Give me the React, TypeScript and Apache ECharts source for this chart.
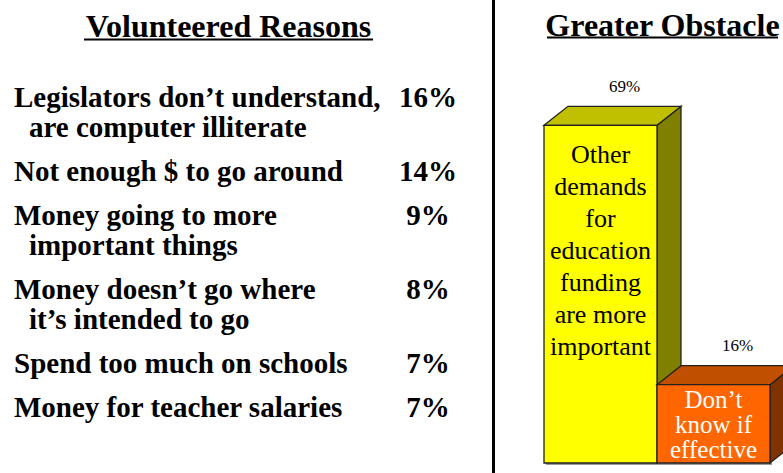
import React, { useEffect, useRef } from 'react';
import * as echarts from 'echarts';

const leftTitle = 'Volunteered Reasons';
const rightTitle = 'Greater Obstacle';
const reasons = [
  'Legislators don’t understand,\nare computer illiterate',
  'Not enough $ to go around',
  'Money going to more\nimportant things',
  'Money doesn’t go where\nit’s intended to go',
  'Spend too much on schools',
  'Money for teacher salaries',
];
const reasonValues = [16, 14, 9, 8, 7, 7];
const obstacleCategories = [
  'Other\ndemands\nfor\neducation\nfunding\nare more\nimportant',
  'Don’t\nknow if\neffective',
];
const obstacleValues = [69, 16];

const SERIF = 'Liberation Serif';

const barStyles = [
  { front: '#FFFF00', top: '#C0C000', side: '#808000', text: '#000000', size: 26, lh: 32, pad: 13 },
  { front: '#FF6600', top: '#C05000', side: '#7F3300', text: '#FFFFFF', size: 25, lh: 25, pad: 2.5 },
];

function txt(x: number, y: number, text: string, size: number, bold: boolean, align: string, vAlign: string, fill = '#000', extra: any = {}) {
  return {
    type: 'text', x, y,
    style: { text, fontFamily: SERIF, fontSize: size, fontWeight: bold ? 'bold' : 'normal', fill, align, verticalAlign: vAlign, ...extra },
  };
}

export default function App() {
  const ref = useRef<HTMLDivElement>(null);
  useEffect(() => {
    document.body.style.margin = '0';
    if (!ref.current) return;
    const chart = echarts.init(ref.current, null, { renderer: 'svg' });

    const graphics: any[] = [];
    graphics.push({ type: 'line', shape: { x1: 493.5, y1: 0, x2: 493.5, y2: 473 }, style: { stroke: '#000', lineWidth: 3 } });
    graphics.push(txt(228.5, 26, leftTitle, 32, true, 'center', 'middle'));
    graphics.push({ type: 'line', shape: { x1: 84, y1: 39.5, x2: 373, y2: 39.5 }, style: { stroke: '#000', lineWidth: 2 } });
    graphics.push(txt(662.5, 24.5, rightTitle, 32, true, 'center', 'middle'));
    graphics.push({ type: 'line', shape: { x1: 547, y1: 37.5, x2: 778, y2: 37.5 }, style: { stroke: '#000', lineWidth: 2 } });

    let baseline = 107;
    reasons.forEach((r, idx) => {
      const lines = r.split('\n');
      lines.forEach((ln, li) => {
        graphics.push(txt(li === 0 ? 14 : 29, baseline + li * 30 - 9.8, ln, 29, true, 'left', 'middle'));
      });
      graphics.push(txt(428, baseline - 9.8, `${reasonValues[idx]}%`, 29, true, 'center', 'middle'));
      baseline += lines.length * 30 + 14;
    });

    const dx = 24, dy = 19;

    chart.setOption({
      animation: false,
      grid: { left: 544, right: 13, top: 71.5, bottom: 10, containLabel: false },
      xAxis: { type: 'category', data: obstacleCategories, show: false },
      yAxis: { type: 'value', min: 0, max: 80, show: false },
      graphic: graphics,
      series: [{
        type: 'custom',
        clip: false,
        data: obstacleValues.map((v, i) => [i, v]),
        renderItem: (params: any, api: any) => {
          const i = params.dataIndex;
          const val = api.value(1);
          const topPt = api.coord([i, val]);
          const basePt = api.coord([i, 0]);
          const bw = api.size([1, 0])[0];
          const x0 = topPt[0] - bw / 2, x1 = topPt[0] + bw / 2;
          const yT = topPt[1], yB = basePt[1];
          const s = barStyles[i];
          const stroke = '#222';
          return {
            type: 'group',
            children: [
              { type: 'rect', shape: { x: x0 + 2, y: yT + 2, width: bw, height: yB - yT }, style: { fill: '#9a9a9a' } },
              { type: 'polygon', shape: { points: [[x1, yT], [x1 + dx, yT - dy], [x1 + dx, yB - dy], [x1, yB]] }, style: { fill: s.side, stroke, lineWidth: 1.3 } },
              { type: 'polygon', shape: { points: [[x0, yT], [x0 + dx, yT - dy], [x1 + dx, yT - dy], [x1, yT]] }, style: { fill: s.top, stroke, lineWidth: 1.3 } },
              { type: 'rect', shape: { x: x0, y: yT, width: bw, height: yB - yT }, style: { fill: s.front, stroke, lineWidth: 1.3 } },
              txt((x0 + x1) / 2, yT + s.pad, obstacleCategories[i], s.size, false, 'center', 'top', s.text, { lineHeight: s.lh }),
              txt((x0 + x1) / 2 + dx, yT - dy - 20, `${val}%`, 17, false, 'center', 'middle'),
            ],
          };
        },
      }],
    });
    return () => chart.dispose();
  }, []);
  return <div ref={ref} style={{ width: 783, height: 473 }} />;
}
